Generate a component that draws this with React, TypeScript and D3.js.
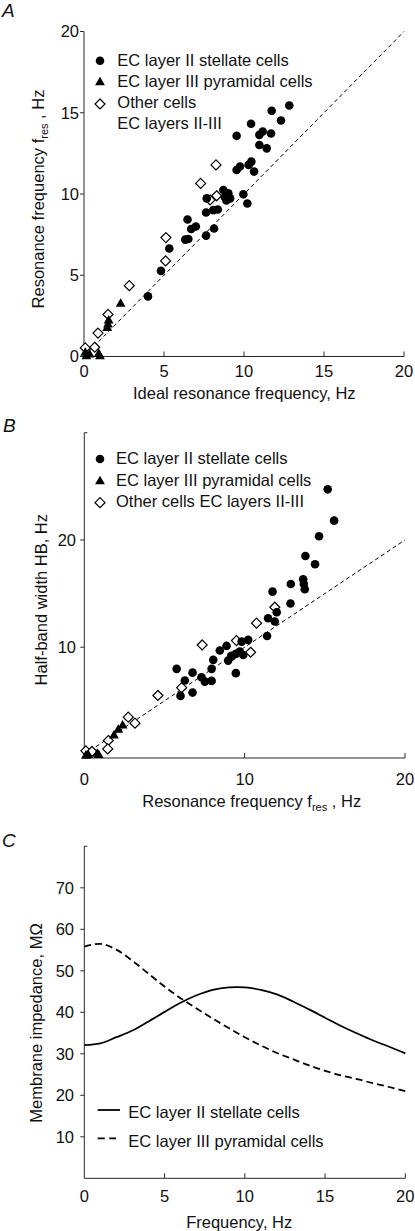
import React from "react";
import * as d3 from "d3";

// ---------- DATA ----------
// Panel A: ideal resonance frequency (x) vs resonance frequency (y)
const stellateA: [number, number][] = [
  [4.0, 3.7], [4.81, 5.27], [5.33, 6.65], [6.33, 7.19], [6.52, 7.23], [6.47, 8.43], [6.7, 7.85],
  [6.99, 8.0], [7.63, 7.44], [7.63, 8.86], [7.67, 9.73], [8.13, 7.88], [8.08, 9.01], [8.36, 9.05],
  [8.71, 10.25], [9.02, 10.04], [9.13, 9.73], [8.81, 9.79], [8.9, 9.6], [9.96, 9.98], [10.21, 9.42],
  [9.54, 13.58], [9.54, 11.48], [9.75, 11.69], [10.29, 11.79], [10.46, 11.99], [10.63, 11.38],
  [10.44, 14.32], [10.96, 13.64], [11.17, 13.85], [10.96, 13.02], [11.42, 12.81], [11.69, 13.72],
  [11.73, 15.12], [12.31, 14.52], [12.83, 15.45],
];
const pyramidalA: [number, number][] = [
  [0.08, 0.27], [0.35, 0.16], [0.92, 0.2], [1.0, 0.05], [1.5, 2.01], [1.54, 2.26], [1.45, 1.8],
  [2.29, 3.29], [0.15, 0.05],
];
const otherA: [number, number][] = [
  [0.08, 0.53], [0.67, 0.57], [0.875, 1.44], [1.5, 2.59], [2.83, 4.36], [5.1, 5.88], [5.12, 7.32],
  [7.29, 10.65], [7.88, 9.63], [8.29, 9.89], [8.25, 11.79],
];

// Panel B: resonance frequency (x) vs half-band width (y)
const stellateB: [number, number][] = [
  [15.18, 24.72], [15.58, 21.8], [14.64, 20.34], [13.79, 18.5], [14.39, 17.73], [13.65, 16.34],
  [13.69, 15.9], [13.75, 15.4], [12.88, 15.9], [12.86, 14.07], [11.74, 15.18], [12.0, 13.26],
  [11.46, 12.7], [11.88, 12.39], [11.4, 11.05], [10.22, 10.68], [9.81, 10.52], [8.87, 10.12],
  [8.45, 9.69], [9.7, 9.59], [9.18, 9.12], [8.97, 8.75], [9.91, 9.28], [8.04, 8.82], [7.94, 7.98],
  [9.45, 7.58], [5.76, 7.98], [6.75, 7.63], [7.31, 7.2], [7.52, 6.79], [7.94, 6.86], [6.27, 6.89],
  [6.0, 5.46], [6.75, 5.77], [9.16, 9.19], [9.45, 9.38],
];
const pyramidalB: [number, number][] = [
  [2.39, 2.76], [2.12, 2.36], [1.85, 1.83], [0.81, 0.12], [0.25, 0.0], [0.1, -0.05], [0.9, 0.0],
];
const otherB: [number, number][] = [
  [11.88, 13.73], [10.74, 12.24], [9.49, 10.62], [10.37, 9.53], [7.35, 10.21], [6.07, 6.23],
  [4.59, 5.5], [2.74, 3.48], [3.16, 2.92], [1.5, 1.3], [1.46, 0.52], [0.1, 0.34], [0.48, 0.28],
];

// Panel C: impedance profiles
const freqC = [0, 1, 2, 3, 4, 5, 6, 7, 8, 9, 10, 11, 12, 13, 14, 15, 16, 17, 18, 19, 20];
const stellateZ = [32.1, 32.5, 34.0, 35.6, 37.8, 40.1, 42.3, 44.1, 45.4, 46.0, 46.0, 45.4, 44.3, 42.6, 40.7, 38.7, 36.7, 34.9, 33.2, 31.7, 30.1];
const pyramidalZ = [55.8, 56.5, 55.1, 52.4, 49.3, 46.2, 43.4, 40.9, 38.5, 36.2, 34.0, 32.0, 30.2, 28.7, 27.2, 25.9, 24.8, 23.9, 22.9, 22.0, 21.0];

const diagonal = [0, 20];
const ticksA = [0, 5, 10, 15, 20];
const ticksBx = [0, 10, 20];
const ticksBy = [10, 20];
const ticksCx = [0, 5, 10, 15, 20];
const ticksCy = [10, 20, 30, 40, 50, 60, 70];

const legendScatterA = ["EC layer II stellate cells", "EC layer III pyramidal cells", "Other cells", "EC layers II-III"];
const legendScatterB = ["EC layer II stellate cells", "EC layer III pyramidal cells", "Other cells EC layers II-III"];
const legendC = ["EC layer II stellate cells", "EC layer III pyramidal cells"];

// ---------- STYLE ----------
const FONT = "'Liberation Sans', Arial, Helvetica, sans-serif";
const FS = 16.5;
const AX = "#2a2a2a";

const triPath = d3.symbol().type(d3.symbolTriangle).size(42)() as string;
const diamondPath = "M0,-5L5,0L0,5L-5,0Z";

function Circle({ x, y }: { x: number; y: number }) {
  return <circle cx={x} cy={y} r={4.3} fill="#000" />;
}
function Tri({ x, y }: { x: number; y: number }) {
  return <path d={triPath} transform={`translate(${x},${y + 0.8})`} fill="#000" />;
}
function Diamond({ x, y }: { x: number; y: number }) {
  return <path d={diamondPath} transform={`translate(${x},${y})`} fill="#fff" stroke="#000" strokeWidth={1.2} />;
}

function PanelA() {
  const x = d3.scaleLinear().domain([0, 20]).range([84, 404]);
  const y = d3.scaleLinear().domain([0, 20]).range([356.5, 31.5]);
  return (
    <g>
      <text x={2} y={17} fontSize={19} fontStyle="italic">A</text>
      {/* axes */}
      <line x1={x(0)} x2={x(0)} y1={y(0)} y2={y(20)} stroke={AX} strokeWidth={1} />
      <line x1={x(0)} x2={x(20)} y1={y(0)} y2={y(0)} stroke={AX} strokeWidth={1} />
      {ticksA.map((t) => (
        <g key={"ya" + t}>
          <line x1={x(0) - 4} x2={x(0)} y1={y(t)} y2={y(t)} stroke={AX} />
          <text x={79} y={y(t)} dy="0.35em" textAnchor="end">{t}</text>
        </g>
      ))}
      {ticksA.map((t) => (
        <g key={"xa" + t}>
          {t > 0 && <line x1={x(t)} x2={x(t)} y1={y(0)} y2={y(0) - 5} stroke={AX} />}
          <text x={x(t)} y={377.3} textAnchor="middle">{t}</text>
        </g>
      ))}
      <line x1={x(diagonal[0])} y1={y(diagonal[0])} x2={x(diagonal[1])} y2={y(diagonal[1])} stroke="#000" strokeWidth={1} strokeDasharray="4,3" />
      {otherA.map((d, i) => <Diamond key={"oa" + i} x={x(d[0])} y={y(d[1])} />)}
      {pyramidalA.map((d, i) => <Tri key={"pa" + i} x={x(d[0])} y={y(d[1])} />)}
      {stellateA.map((d, i) => <Circle key={"sa" + i} x={x(d[0])} y={y(d[1])} />)}
      {/* legend */}
      <Circle x={100} y={60.7} />
      <text x={117.3} y={65.7}>{legendScatterA[0]}</text>
      <Tri x={100} y={81.7} />
      <text x={117.3} y={87.3}>{legendScatterA[1]}</text>
      <Diamond x={100} y={104} />
      <text x={117.3} y={108.3}>{legendScatterA[2]}</text>
      <text x={117.3} y={129.3}>{legendScatterA[3]}</text>
      {/* labels */}
      <text x={244.3} y={399.3} textAnchor="middle">Ideal resonance frequency, Hz</text>
      <text transform="translate(43.5,199) rotate(-90)" textAnchor="middle">
        Resonance frequency f<tspan fontSize={11} dy={4}>res</tspan><tspan dy={-4}> , Hz</tspan>
      </text>
    </g>
  );
}

function PanelB() {
  const x = d3.scaleLinear().domain([0, 20]).range([84.3, 405]);
  const y = d3.scaleLinear().domain([-0.33, 30]).range([758, 432.7]);
  return (
    <g>
      <text x={3} y={432} fontSize={19} fontStyle="italic">B</text>
      <line x1={x(0)} x2={x(0)} y1={y(-0.33)} y2={y(30)} stroke={AX} strokeWidth={1} />
      <line x1={x(0)} x2={x(20)} y1={y(-0.33)} y2={y(-0.33)} stroke={AX} strokeWidth={1} />
      <line x1={x(0)} x2={x(0) + 3} y1={y(30)} y2={y(30)} stroke={AX} />
      {ticksBy.map((t) => (
        <g key={"yb" + t}>
          <line x1={x(0) - 4} x2={x(0)} y1={y(t)} y2={y(t)} stroke={AX} />
          <text x={76} y={y(t)} dy="0.35em" textAnchor="end">{t}</text>
        </g>
      ))}
      {ticksBx.map((t) => (
        <g key={"xb" + t}>
          {t > 0 && <line x1={x(t)} x2={x(t)} y1={y(-0.33)} y2={y(-0.33) - 5} stroke={AX} />}
          <text x={x(t)} y={785} textAnchor="middle">{t}</text>
        </g>
      ))}
      <line x1={x(diagonal[0])} y1={y(diagonal[0])} x2={x(diagonal[1])} y2={y(diagonal[1])} stroke="#000" strokeWidth={1} strokeDasharray="4,3" />
      {otherB.map((d, i) => <Diamond key={"ob" + i} x={x(d[0])} y={y(d[1])} />)}
      {pyramidalB.map((d, i) => <Tri key={"pb" + i} x={x(d[0])} y={y(d[1])} />)}
      {stellateB.map((d, i) => <Circle key={"sb" + i} x={x(d[0])} y={y(d[1])} />)}
      <Circle x={100} y={459} />
      <text x={116} y={464}>{legendScatterB[0]}</text>
      <Tri x={100} y={480.7} />
      <text x={116} y={485.7}>{legendScatterB[1]}</text>
      <Diamond x={100} y={502.7} />
      <text x={116} y={506.7}>{legendScatterB[2]}</text>
      <text x={251.7} y={806.7} textAnchor="middle">
        Resonance frequency f<tspan fontSize={11} dy={4}>res</tspan><tspan dy={-4}> , Hz</tspan>
      </text>
      <text transform="translate(46.5,599.7) rotate(-90)" textAnchor="middle">Half-band width HB, Hz</text>
    </g>
  );
}

function PanelC() {
  const x = d3.scaleLinear().domain([0, 20]).range([84.3, 405.3]);
  const y = d3.scaleLinear().domain([0, 80]).range([1178.3, 846.3]);
  const line = d3
    .line<number>()
    .x((_, i) => x(freqC[i]))
    .y((d) => y(d))
    .curve(d3.curveCatmullRom.alpha(0.5));
  return (
    <g>
      <text x={2} y={847} fontSize={19} fontStyle="italic">C</text>
      <line x1={x(0)} x2={x(0)} y1={y(0)} y2={y(80)} stroke={AX} strokeWidth={1} />
      <line x1={x(0)} x2={x(20)} y1={y(0)} y2={y(0)} stroke={AX} strokeWidth={1} />
      <line x1={x(0)} x2={x(0) + 3} y1={y(80)} y2={y(80)} stroke={AX} />
      {ticksCy.map((t) => (
        <g key={"yc" + t}>
          <line x1={x(0) - 4} x2={x(0)} y1={y(t)} y2={y(t)} stroke={AX} />
          <text x={74} y={y(t)} dy="0.35em" textAnchor="end">{t}</text>
        </g>
      ))}
      {ticksCx.map((t) => (
        <g key={"xc" + t}>
          {t > 0 && <line x1={x(t)} x2={x(t)} y1={y(0)} y2={y(0) - 5} stroke={AX} />}
          <text x={x(t)} y={1202.3} textAnchor="middle">{t}</text>
        </g>
      ))}
      <path d={line(stellateZ) as string} fill="none" stroke="#000" strokeWidth={1.8} />
      <path d={line(pyramidalZ) as string} fill="none" stroke="#000" strokeWidth={1.8} strokeDasharray="7,4" />
      <line x1={97.7} x2={120} y1={1110} y2={1110} stroke="#000" strokeWidth={1.8} />
      <text x={128.3} y={1117.7}>{legendC[0]}</text>
      <line x1={97.7} x2={116} y1={1138.3} y2={1138.3} stroke="#000" strokeWidth={1.8} strokeDasharray="7,4.5" />
      <text x={128.3} y={1146.7}>{legendC[1]}</text>
      <text x={239.2} y={1227.7} textAnchor="middle">Frequency, Hz</text>
      <text transform="translate(41.7,1023) rotate(-90)" textAnchor="middle">Membrane impedance, MΩ</text>
    </g>
  );
}

export default function App() {
  return (
    <svg
      width={415}
      height={1231}
      viewBox="0 0 415 1231"
      style={{ position: "absolute", left: 0, top: 0, background: "#fff" }}
      fontFamily={FONT}
      fontSize={FS}
      fill="#111"
    >
      <rect width={415} height={1231} fill="#fff" />
      <PanelA />
      <PanelB />
      <PanelC />
    </svg>
  );
}
